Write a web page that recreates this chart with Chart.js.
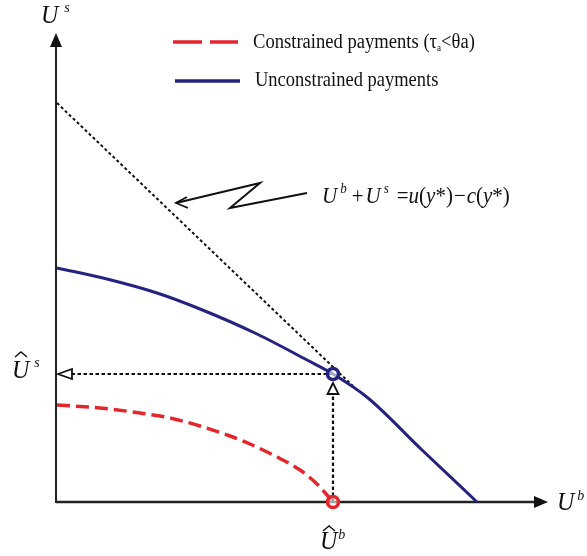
<!DOCTYPE html>
<html>
<head>
<meta charset="utf-8">
<script src="https://cdn.jsdelivr.net/npm/chart.js@4/dist/chart.umd.min.js"></script>
<style>
  html, body { margin: 0; padding: 0; background: #fff; }
  #wrap { width: 587px; height: 556px; }
</style>
</head>
<body>
<div id="wrap"><canvas id="c" width="587" height="556"></canvas></div>
<script>
// ---- data (abstract utility units) ----
const unconstrainedX = [0, 50, 100, 143, 200, 250, 276, 311, 365, 420];
const unconstrainedY = [234, 223, 209, 193, 168, 142, 128, 104, 52, 0];

const constrainedX = [0, 43, 83, 113, 143, 173, 193, 218, 243, 261, 276];
const constrainedY = [97, 94, 89, 84, 76, 66, 58, 46, 32, 17, 0];

const frontierX = [0, 296];
const frontierY = [399, 116];

// equilibrium point (U^b hat, U^s hat)
const hatUb = 276;
const hatUs = 128;

// zigzag pointer to the frontier line
const pointerX = [250, 173, 203, 119];
const pointerY = [309, 294, 319, 299];

const legendLabels = ['Constrained payments', 'Unconstrained payments'];

const BLUE = '#25237e';
const RED = '#e3262b';
const SERIF = '"Liberation Serif", "Times New Roman", serif';

const pts = (xs, ys) => xs.map((x, i) => ({ x: x, y: ys[i] }));

// text drawn a little taller than wide, like the reference
function txt(ctx, s, x, y, size, italic, stretch) {
  ctx.save();
  ctx.translate(x, y);
  ctx.scale(1, stretch || 1);
  ctx.font = (italic ? 'italic ' : '') + size + 'px ' + SERIF;
  ctx.fillStyle = '#111';
  ctx.textBaseline = 'alphabetic';
  ctx.fillText(s, 0, 0);
  const w = ctx.measureText(s).width;
  ctx.restore();
  return x + w;
}

// run of pieces: [text, italic, size, dy, gapAfter]
function run(ctx, pieces, x, y, stretch) {
  pieces.forEach(p => {
    x = txt(ctx, p[0], x, y + (p[3] || 0), p[2], p[1], stretch) + (p[4] || 0);
  });
  return x;
}

function hat(ctx, x, y) {
  ctx.save();
  ctx.strokeStyle = '#111';
  ctx.lineWidth = 1.4;
  ctx.beginPath();
  ctx.moveTo(x - 6, y + 5);
  ctx.lineTo(x, y);
  ctx.lineTo(x + 6, y + 5);
  ctx.stroke();
  ctx.restore();
}

const decor = {
  id: 'decor',
  beforeDatasetsDraw(chart) {
    const ctx = chart.ctx;
    const a = chart.chartArea;
    ctx.save();
    // axes
    ctx.strokeStyle = '#222';
    ctx.fillStyle = '#111';
    ctx.lineWidth = 2.5;
    ctx.beginPath();
    ctx.moveTo(a.left - 1, a.bottom);
    ctx.lineTo(a.right - 12, a.bottom);
    ctx.stroke();
    ctx.lineWidth = 2;
    ctx.beginPath();
    ctx.moveTo(a.left - 1, a.bottom + 1);
    ctx.lineTo(a.left - 1, a.top + 12);
    ctx.stroke();
    // arrow heads
    ctx.beginPath();
    ctx.moveTo(a.right, a.bottom);
    ctx.lineTo(a.right - 14, a.bottom - 6);
    ctx.lineTo(a.right - 14, a.bottom + 6);
    ctx.closePath();
    ctx.fill();
    ctx.beginPath();
    ctx.moveTo(a.left - 1, a.top);
    ctx.lineTo(a.left - 7, a.top + 14);
    ctx.lineTo(a.left + 5, a.top + 14);
    ctx.closePath();
    ctx.fill();
    ctx.restore();
  },
  afterDatasetsDraw(chart) {
    const ctx = chart.ctx;
    const a = chart.chartArea;
    const xs = chart.scales.x, ys = chart.scales.y;
    const px = xs.getPixelForValue(hatUb);
    const py = ys.getPixelForValue(hatUs);
    ctx.save();
    ctx.strokeStyle = '#111';
    ctx.fillStyle = '#fff';
    ctx.lineWidth = 1.8;
    // open arrowhead on the horizontal guide
    ctx.beginPath();
    ctx.moveTo(a.left + 1, py);
    ctx.lineTo(a.left + 15, py - 5);
    ctx.lineTo(a.left + 15, py + 5);
    ctx.closePath();
    ctx.fill();
    ctx.stroke();
    // open arrowhead on the vertical guide
    ctx.beginPath();
    ctx.moveTo(px, py + 9);
    ctx.lineTo(px - 5.5, py + 20);
    ctx.lineTo(px + 5.5, py + 20);
    ctx.closePath();
    ctx.fill();
    ctx.stroke();
    // pointer arrow head
    const tx = xs.getPixelForValue(pointerX[pointerX.length - 1]);
    const ty = ys.getPixelForValue(pointerY[pointerY.length - 1]);
    ctx.lineWidth = 1.8;
    ctx.beginPath();
    ctx.moveTo(tx + 11, ty - 6);
    ctx.lineTo(tx, ty);
    ctx.lineTo(tx + 12, ty + 5);
    ctx.stroke();

    // legend
    ctx.lineWidth = 3.5;
    ctx.strokeStyle = RED;
    ctx.setLineDash([29, 8]);
    ctx.beginPath();
    ctx.moveTo(173, 42);
    ctx.lineTo(238, 42);
    ctx.stroke();
    ctx.setLineDash([]);
    ctx.strokeStyle = BLUE;
    ctx.lineWidth = 3.5;
    ctx.beginPath();
    ctx.moveTo(175, 81);
    ctx.lineTo(240, 81);
    ctx.stroke();
    ctx.restore();

    const LS = 1.12;
    let x = txt(ctx, legendLabels[0] + ' (τ', 253, 48, 18.6, false, LS);
    x = txt(ctx, 'a', x, 51, 9, false, LS);
    txt(ctx, '<θa)', x, 48, 18.6, false, LS);
    txt(ctx, legendLabels[1], 255, 86, 18.5, false, LS);

    // formula
    run(ctx, [
      ['U', true, 21, 0, 3], ['b', true, 13, -10, 5], ['+', false, 21, 0, 2],
      ['U', true, 21, 0, 3], ['s', true, 13, -10, 8], ['=', false, 21, 0, 0],
      ['u', true, 21], ['(', false, 21], ['y', true, 21], ['*)', false, 21, 0, 1], ['\u2212', false, 21, 0, 1],
      ['c', true, 21], ['(', false, 21], ['y', true, 21], ['*)', false, 21]
    ], 322, 203, 1.08);

    // axis labels
    run(ctx, [['U', true, 24, 0, 6], ['s', true, 14, -11]], 41, 23, 1.05);
    run(ctx, [['U', true, 24, 0, 3], ['b', true, 14, -10]], 557, 510, 1.05);
    hat(ctx, 21, 352);
    run(ctx, [['U', true, 24, 0, 5], ['s', true, 14, -11]], 12, 378, 1.05);
    hat(ctx, 329, 526);
    run(ctx, [['U', true, 24, 0, 1], ['b', true, 14, -10]], 320, 549, 1.05);
  }
};

const guideStyle = {
  borderColor: '#111', borderWidth: 2.2, borderDash: [3.5, 2.5],
  pointRadius: 0, fill: false, clip: false
};

new Chart(document.getElementById('c'), {
  type: 'line',
  data: {
    datasets: [
      {
        label: 'eqB', data: [{ x: hatUb, y: hatUs }], showLine: false,
        pointRadius: 5.5, pointBorderWidth: 3.6, pointBorderColor: BLUE,
        pointBackgroundColor: 'rgba(255,255,255,0.6)', clip: false, order: 0
      },
      {
        label: 'eqR', data: [{ x: hatUb, y: 0 }], showLine: false,
        pointRadius: 5.5, pointBorderWidth: 3.6, pointBorderColor: RED,
        pointBackgroundColor: 'rgba(255,255,255,0.6)', clip: false, order: 0
      },
      {
        label: legendLabels[1], data: pts(unconstrainedX, unconstrainedY),
        borderColor: BLUE, borderWidth: 3, pointRadius: 0, cubicInterpolationMode: 'monotone',
        fill: false, clip: false, order: 1
      },
      {
        label: legendLabels[0], data: pts(constrainedX, constrainedY),
        borderColor: RED, borderWidth: 3.5, borderDash: [13, 6], pointRadius: 0,
        cubicInterpolationMode: 'monotone', fill: false, clip: false, order: 2
      },
      Object.assign({ label: 'frontier', data: pts(frontierX, frontierY), order: 3 }, guideStyle,
        { borderWidth: 2, borderDash: [3, 2.5] }),
      Object.assign({ label: 'guideH', data: [{ x: hatUb, y: hatUs }, { x: 15, y: hatUs }], order: 4 }, guideStyle),
      Object.assign({ label: 'guideV', data: [{ x: hatUb, y: 0 }, { x: hatUb, y: hatUs - 20 }], order: 4 }, guideStyle),
      {
        label: 'pointer', data: pts(pointerX, pointerY), borderColor: '#111',
        borderWidth: 2, pointRadius: 0, tension: 0, fill: false, clip: false, order: 4
      }
    ]
  },
  options: {
    responsive: false,
    animation: false,
    layout: { padding: { left: 57, right: 39, top: 33, bottom: 54 } },
    plugins: { legend: { display: false }, tooltip: { enabled: false } },
    scales: {
      x: { type: 'linear', min: 0, max: 491, display: false },
      y: { type: 'linear', min: 0, max: 469, display: false }
    }
  },
  plugins: [decor]
});
</script>
</body>
</html>
